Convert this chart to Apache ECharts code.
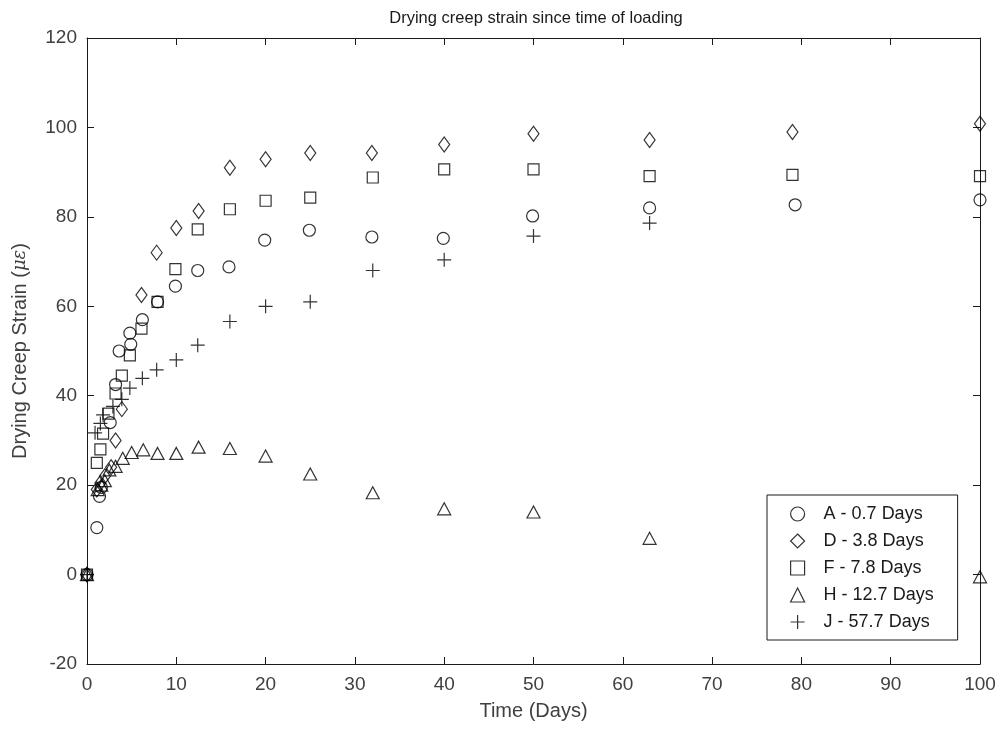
<!DOCTYPE html>
<html>
<head>
<meta charset="utf-8">
<title>Drying creep strain</title>
<script src="https://cdn.jsdelivr.net/npm/echarts@6/dist/echarts.min.js"></script>
<style>
  html, body { margin: 0; padding: 0; background: #fff; }
  #chart { width: 1001px; height: 735px; }
</style>
</head>
<body>
<div id="chart"></div>
<script>
// values: time (days) and drying creep strain (microstrain)
var daysA = [0, 1.1, 1.4, 1.6, 2.6, 3.2, 3.6, 4.8, 4.9, 6.2, 7.9, 9.9, 12.4, 15.9, 19.9, 24.9, 31.9, 39.9, 49.9, 63, 79.3, 100];
var strainA = [0, 10.5, 17.5, 19.5, 34, 42.5, 50, 54, 51.5, 57, 61, 64.5, 68, 68.8, 74.8, 77, 75.5, 75.2, 80.2, 82, 82.7, 83.8];

var daysD = [0, 1.1, 1.5, 2, 2.7, 3.2, 3.9, 6.1, 7.8, 10, 12.5, 16, 20, 25, 31.9, 40, 50, 63, 79, 100];
var strainD = [0, 19, 20.5, 22, 24, 30, 37, 62.5, 72, 77.5, 81.3, 91, 92.9, 94.3, 94.3, 96.2, 98.6, 97.2, 99, 100.8];

var daysF = [0, 1.1, 1.5, 1.8, 2.4, 3.2, 3.9, 4.8, 6.1, 7.9, 9.9, 12.4, 16, 20, 25, 32, 40, 50, 63, 79, 100];
var strainF = [0, 25, 28, 31.5, 36, 40.5, 44.5, 49, 55, 61, 68.3, 77.2, 81.7, 83.6, 84.3, 88.8, 90.6, 90.6, 89.1, 89.4, 89.1];

var daysH = [0, 1.2, 1.6, 2, 2.5, 3.2, 4, 5, 6.3, 7.9, 10, 12.5, 16, 20, 25, 32, 40, 50, 63, 100];
var strainH = [0, 19, 20, 21, 23.4, 24.2, 26, 27.3, 27.9, 27.1, 27.1, 28.5, 28.2, 26.5, 22.5, 18.3, 14.7, 14, 8.1, -0.5];

var daysJ = [0, 0.9, 1.5, 1.8, 2.9, 3.9, 4.8, 6.2, 7.8, 10, 12.4, 16, 20, 25, 32, 40, 50, 63];
var strainJ = [0, 31.7, 33.8, 35.7, 37.6, 39.2, 41.7, 43.9, 45.8, 48, 51.3, 56.6, 60, 61, 68, 70.4, 75.7, 78.6];

var seriesNames = ['A - 0.7 Days', 'D - 3.8 Days', 'F - 7.8 Days', 'H - 12.7 Days', 'J - 57.7 Days'];
var xTicks = { min: 0, max: 100, step: 10 };
var yTicks = { min: -20, max: 120, step: 20 };

var plusPath = 'path://M0,5L10,5M5,0L5,10';
var symbols = ['circle', 'diamond', 'rect', 'triangle', plusPath];
var sizes = [12, [11, 15], 11, [13, 12], 14];

var font = "'Liberation Sans', Arial, sans-serif";
var ink = '#1a1a1a';
var grey = '#404040';

function pairs(xs, ys) {
  var out = [];
  for (var i = 0; i < xs.length; i++) {
    out.push([xs[i], ys[i]]);
  }
  return out;
}

var hollow = { color: 'rgba(0,0,0,0)', borderColor: '#000', borderWidth: 1.2 };
var allData = [pairs(daysA, strainA), pairs(daysD, strainD), pairs(daysF, strainF),
  pairs(daysH, strainH), pairs(daysJ, strainJ)];

var series = allData.map(function(d, i) {
  return {
    name: seriesNames[i],
    type: 'scatter',
    symbol: symbols[i],
    symbolSize: sizes[i],
    itemStyle: hollow,
    emphasis: { disabled: true },
    data: d
  };
});

function boxAxis(base, pos) {
  return {
    type: 'value',
    position: pos,
    min: base.min,
    max: base.max,
    interval: base.step,
    axisLine: { show: true, onZero: false, lineStyle: { color: ink, width: 1 } },
    axisTick: { show: true, inside: true, length: 7, lineStyle: { color: ink } },
    axisLabel: { show: false },
    splitLine: { show: false }
  };
}

var xMain = boxAxis(xTicks, 'bottom');
xMain.name = 'Time (Days)';
xMain.nameLocation = 'middle';
xMain.nameGap = 37;
xMain.nameTextStyle = { fontFamily: font, fontSize: 20, color: grey };
xMain.axisLabel = { show: true, margin: 11, fontFamily: font, fontSize: 19, color: grey };

var yMain = boxAxis(yTicks, 'left');
yMain.name = 'Drying Creep Strain ({i|\u03bc\u03b5})';
yMain.nameLocation = 'middle';
yMain.nameGap = 57;
yMain.nameTextStyle = {
  fontFamily: font, fontSize: 20, color: grey,
  rich: { i: { fontFamily: "'DejaVu Serif', serif", fontStyle: 'italic', fontSize: 18, color: grey } }
};
yMain.axisLabel = { show: true, margin: 10, fontFamily: font, fontSize: 19, color: grey };

var chart = echarts.init(document.getElementById('chart'), null, { renderer: 'canvas' });
chart.setOption({
  animation: false,
  backgroundColor: '#fff',
  title: {
    text: 'Drying creep strain since time of loading',
    left: 531, top: 5, textAlign: 'center',
    textStyle: { fontFamily: font, fontSize: 16.5, fontWeight: 'normal', color: ink }
  },
  grid: { left: 87, right: 21, top: 38, bottom: 71, containLabel: false },
  xAxis: [xMain, boxAxis(xTicks, 'top')],
  yAxis: [yMain, boxAxis(yTicks, 'right')],
  legend: {
    orient: 'vertical',
    left: 767, top: 495,
    padding: [10, 24, 9, 23],
    itemGap: 9,
    itemWidth: 14,
    itemHeight: 14,
    borderColor: ink,
    borderWidth: 1,
    backgroundColor: '#fff',
    textStyle: { fontFamily: font, fontSize: 18, color: ink, padding: [0, 0, 0, 14] },
    data: seriesNames.map(function(n, i) {
      return { name: n, icon: symbols[i], itemStyle: hollow };
    })
  },
  series: series
});
</script>
</body>
</html>
